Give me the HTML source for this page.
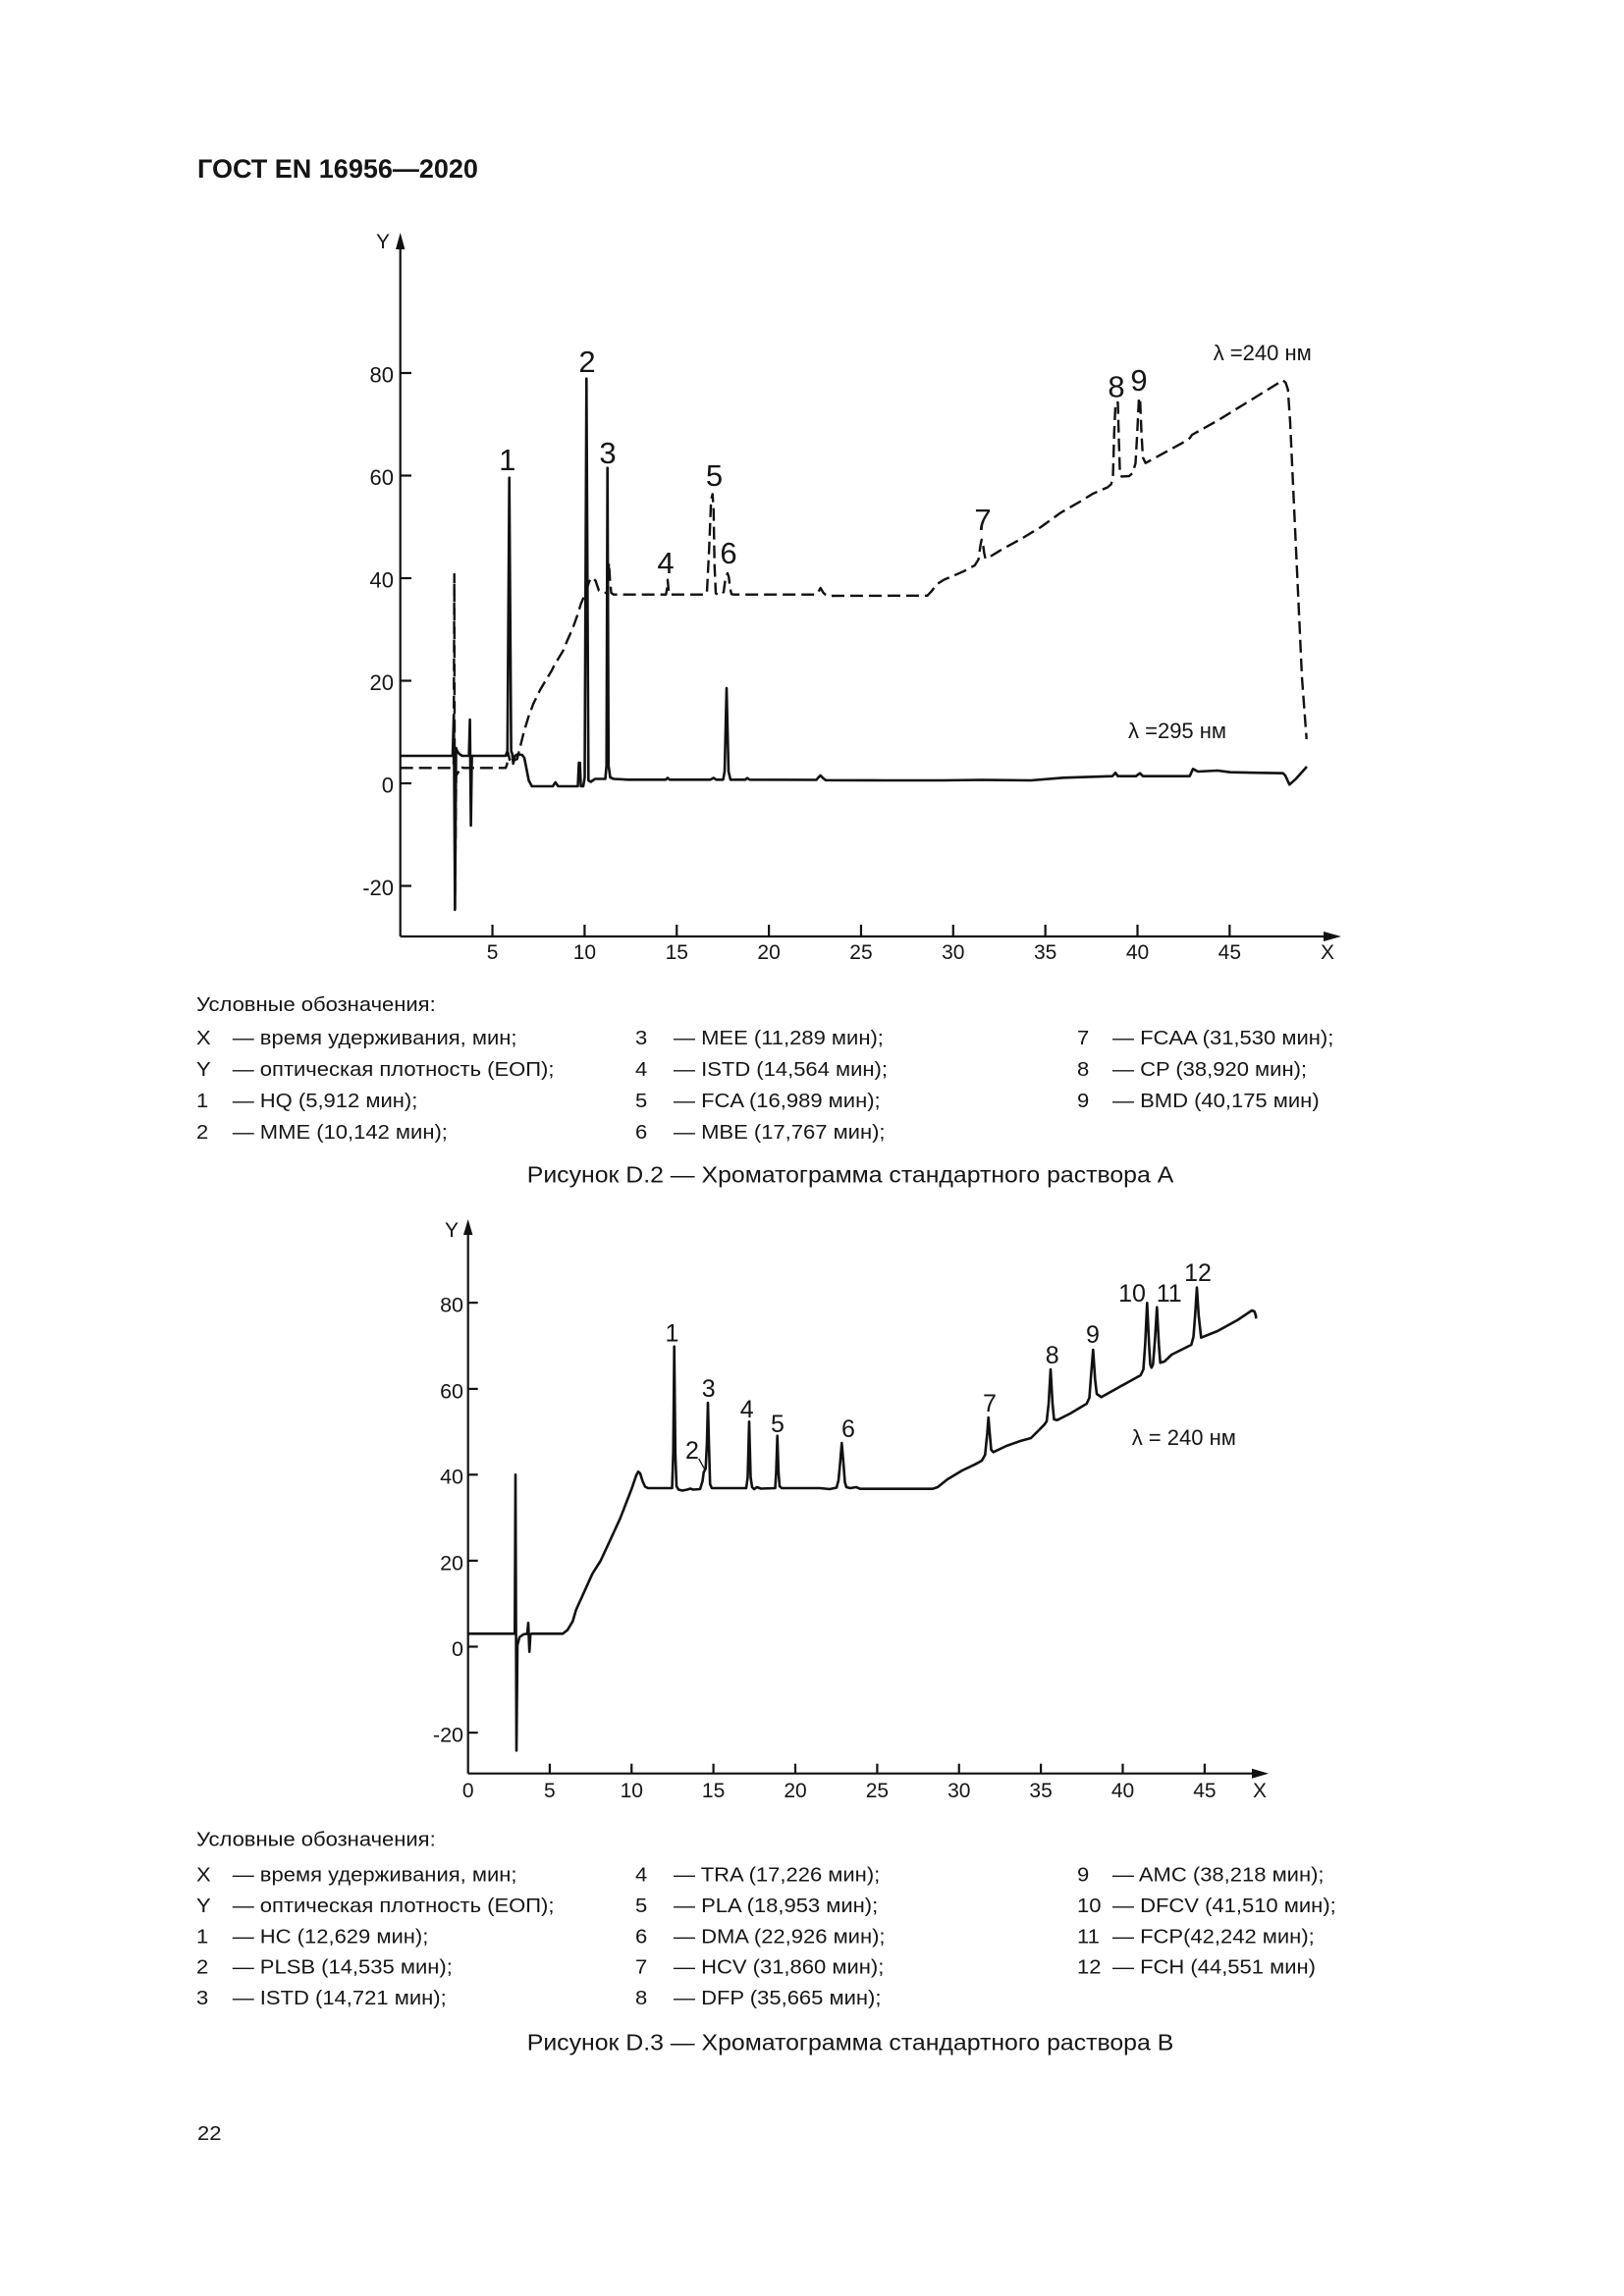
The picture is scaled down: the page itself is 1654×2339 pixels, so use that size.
<!DOCTYPE html>
<html>
<head>
<meta charset="utf-8">
<style>
html,body{margin:0;padding:0;background:#fff;}
svg{display:block;}
text{font-family:"Liberation Sans",Arial,sans-serif;fill:#151515;}
</style>
</head>
<body>
<svg width="1654" height="2339" viewBox="0 0 1654 2339" xmlns="http://www.w3.org/2000/svg">
<rect x="0" y="0" width="1654" height="2339" fill="#fff"/>

<!-- Header -->
<text x="201" y="181" font-size="27" font-weight="bold">ГОСТ EN 16956—2020</text>

<!-- ================= CHART 1 ================= -->
<g stroke="#111" stroke-width="2.2" fill="none">
  <line x1="407.7" y1="954" x2="407.7" y2="250"/>
  <line x1="407.7" y1="954" x2="1352" y2="954"/>
  <line x1="407.7" y1="380" x2="419" y2="380"/>
  <line x1="407.7" y1="484.5" x2="419" y2="484.5"/>
  <line x1="407.7" y1="589" x2="419" y2="589"/>
  <line x1="407.7" y1="693.5" x2="419" y2="693.5"/>
  <line x1="407.7" y1="798" x2="419" y2="798"/>
  <line x1="407.7" y1="902.5" x2="419" y2="902.5"/>
  <line x1="501.55" y1="954" x2="501.55" y2="942"/>
  <line x1="595.4" y1="954" x2="595.4" y2="942"/>
  <line x1="689.25" y1="954" x2="689.25" y2="942"/>
  <line x1="783.1" y1="954" x2="783.1" y2="942"/>
  <line x1="876.95" y1="954" x2="876.95" y2="942"/>
  <line x1="970.8" y1="954" x2="970.8" y2="942"/>
  <line x1="1064.65" y1="954" x2="1064.65" y2="942"/>
  <line x1="1158.5" y1="954" x2="1158.5" y2="942"/>
  <line x1="1252.35" y1="954" x2="1252.35" y2="942"/>
</g>
<polygon points="407.7,237 403,254 412.4,254" fill="#111"/>
<polygon points="1366,954 1348,949 1348,959" fill="#111"/>

<text x="383" y="253" font-size="21">Y</text>
<text x="1352" y="977" font-size="21" text-anchor="middle">X</text>

<g font-size="22" text-anchor="end">
  <text x="401" y="389.5">80</text>
  <text x="401" y="494">60</text>
  <text x="401" y="598.5">40</text>
  <text x="401" y="703">20</text>
  <text x="401" y="807.5">0</text>
  <text x="401" y="912">-20</text>
</g>
<g font-size="21" text-anchor="middle">
  <text x="501.55" y="977">5</text>
  <text x="595.4" y="977">10</text>
  <text x="689.25" y="977">15</text>
  <text x="783.1" y="977">20</text>
  <text x="876.95" y="977">25</text>
  <text x="970.8" y="977">30</text>
  <text x="1064.65" y="977">35</text>
  <text x="1158.5" y="977">40</text>
  <text x="1252.35" y="977">45</text>
</g>

<!-- solid 295 nm -->
<path fill="none" stroke="#111" stroke-width="2.6" stroke-linejoin="round" d="M407.7,770 L461,770 L462.2,728 L463.4,926 L464.5,762 Q466,768 471,770 L477.6,770 L478.6,733 L479.6,841 L480.6,770 L515,770 L516.8,765 L518.7,486.7 L520.6,765 L521.7,768 L522.7,778 L524.5,770 L527,768.5 L531.7,769 L534,772 L536,782 L538.5,795 L541.7,801 L563,801 L565.7,797 L568.5,801 L588.5,801 L589.6,777 L590.6,777 L591.6,801 L594,801 L595.5,792 L597.3,385.7 L599.3,795 L601.7,796.5 L606,793.5 L616.5,793.5 L617.7,780 L618.7,476.7 L619.8,780 L621.5,792 L625,793.5 L640,794.3 L678,794.3 L680,792.5 L682,794.3 L723.5,794.3 L726.7,792.5 L729.5,794.3 L736.5,794.3 L738,786 L740,701 L742,786 L744,794.3 L759,794.3 L761,792.7 L763.5,794.3 L831.5,794.5 L833.5,792 L835.7,790 L838,792.5 L841,794.8 L900,795 L960,795 L1000,794.5 L1050,795 L1083,792.3 L1133,790.7 L1136,787.3 L1138.5,790.7 L1157,790.7 L1161,787.7 L1164,790.7 L1211.7,790.7 L1215,783.3 L1220,786 L1240,785 L1253,786.7 L1306.7,787.7 L1309,790 L1313.3,799.3 L1320,793.3 L1331,781"/>

<!-- dashed 240 nm -->
<path fill="none" stroke="#111" stroke-width="2.4" stroke-dasharray="13,6" stroke-linejoin="round" d="M407.7,782.3 L461,782.3 L462,780 L462.7,585 L463.3,927 L464.6,790 L466.7,786.7 L469,781 L472,782.3 L515,782.3 L516.3,779 L517.5,766.7 L519,774 L520.5,771 L522.5,775 L526.7,773.3 L530,760 L533.3,746.7 L538,731 L543.3,716.7 L550,703 L556.7,691.7 L562,683 L565.7,675 L568,672 L573.3,663.3 L578,652 L583.3,640 L588,627 L591.7,615 L596.7,603.3 L600,592.5 L603.3,588.3 L606.5,591.5 L610,601.7 L615,604.3 L618.3,603.5 L619.3,590 L620.2,573.5 L621.2,590 L622.5,604 L625,605.7 L678.3,605.7 L679.3,600 L680,590.7 L680.8,600 L681.8,605.7 L718.5,605.7 L720,603 L722.2,560 L724.2,510 L725.7,503.3 L726.8,520 L727.7,575 L729,604.5 L731,605.7 L735,605.7 L737,603 L738.5,592 L739.8,587 L741,584 L742.3,588 L743.5,599 L745,605.2 L747,605.7 L831,605.7 L833.5,603 L835.7,599 L838.5,603.8 L841,606 L846,607 L944.5,606.8 L949,602 L953.9,595.3 L961.4,590.6 L970,587 L981.1,582.2 L992.8,575.9 L996.5,570 L998.5,556 L999.7,549.8 L1001,553 L1002.3,563 L1003.6,569.1 L1006,568 L1008.3,567.1 L1020,560 L1040,549 L1060,537 L1080,522.5 L1100,511 L1113,503 L1122,499 L1128,496.5 L1131.7,493.3 L1133.5,486 L1134.8,440 L1136.2,410 L1138.5,410 L1139.6,450 L1140.7,483 L1142.5,485.5 L1150,485 L1153.5,482 L1156.5,472 L1158.3,440 L1160,405 L1161.2,408 L1162.5,440 L1164,466 L1166.7,471.7 L1190,459 L1210,448 L1212,446 L1214,443 L1240,428.5 L1270,410 L1300,391.5 L1306.7,387.3 L1309.5,390 L1311.7,396.7 L1314,430 L1320,560 L1326,690 L1330.7,753"/>

<g font-size="31" text-anchor="middle">
  <text x="516.7" y="479">1</text>
  <text x="598" y="379">2</text>
  <text x="619" y="472">3</text>
  <text x="678" y="584">4</text>
  <text x="727.5" y="495">5</text>
  <text x="742" y="574">6</text>
  <text x="1001" y="540">7</text>
  <text x="1137" y="404.5">8</text>
  <text x="1160" y="398">9</text>
</g>
<text x="1235.7" y="367" font-size="22">λ =240 нм</text>
<text x="1149" y="752" font-size="22">λ =295 нм</text>

<!-- Legend 1 -->
<g font-size="20">
  <text transform="translate(200,1030) scale(1.1,1)">Условные обозначения:</text>

  <text transform="translate(200,1064) scale(1.1,1)">X</text>
  <text transform="translate(236.7,1064) scale(1.1,1)">— время удерживания, мин;</text>
  <text transform="translate(200,1096) scale(1.1,1)">Y</text>
  <text transform="translate(236.7,1096) scale(1.1,1)">— оптическая плотность (ЕОП);</text>
  <text transform="translate(200,1128) scale(1.1,1)">1</text>
  <text transform="translate(236.7,1128) scale(1.1,1)">— HQ (5,912 мин);</text>
  <text transform="translate(200,1160) scale(1.1,1)">2</text>
  <text transform="translate(236.7,1160) scale(1.1,1)">— MME (10,142 мин);</text>

  <text transform="translate(647,1064) scale(1.1,1)">3</text>
  <text transform="translate(686,1064) scale(1.1,1)">— MEE (11,289 мин);</text>
  <text transform="translate(647,1096) scale(1.1,1)">4</text>
  <text transform="translate(686,1096) scale(1.1,1)">— ISTD (14,564 мин);</text>
  <text transform="translate(647,1128) scale(1.1,1)">5</text>
  <text transform="translate(686,1128) scale(1.1,1)">— FCA (16,989 мин);</text>
  <text transform="translate(647,1160) scale(1.1,1)">6</text>
  <text transform="translate(686,1160) scale(1.1,1)">— MBE (17,767 мин);</text>

  <text transform="translate(1097,1064) scale(1.1,1)">7</text>
  <text transform="translate(1133,1064) scale(1.1,1)">— FCAA (31,530 мин);</text>
  <text transform="translate(1097,1096) scale(1.1,1)">8</text>
  <text transform="translate(1133,1096) scale(1.1,1)">— CP (38,920 мин);</text>
  <text transform="translate(1097,1128) scale(1.1,1)">9</text>
  <text transform="translate(1133,1128) scale(1.1,1)">— BMD (40,175 мин)</text>
</g>
<text transform="translate(866,1204.5) scale(1.08,1)" font-size="23" text-anchor="middle">Рисунок D.2 — Хроматограмма стандартного раствора А</text>

<!-- ================= CHART 2 ================= -->
<g stroke="#111" stroke-width="2.2" fill="none">
  <line x1="476.7" y1="1806.7" x2="476.7" y2="1255"/>
  <line x1="476.7" y1="1806.7" x2="1278" y2="1806.7"/>
  <line x1="476.7" y1="1327.1" x2="486.7" y2="1327.1"/>
  <line x1="476.7" y1="1414.9" x2="486.7" y2="1414.9"/>
  <line x1="476.7" y1="1502.3" x2="486.7" y2="1502.3"/>
  <line x1="476.7" y1="1589.9" x2="486.7" y2="1589.9"/>
  <line x1="476.7" y1="1677.5" x2="486.7" y2="1677.5"/>
  <line x1="476.7" y1="1765.1" x2="486.7" y2="1765.1"/>
  <line x1="559.9" y1="1806.7" x2="559.9" y2="1796.7"/>
  <line x1="643.25" y1="1806.7" x2="643.25" y2="1796.7"/>
  <line x1="726.6" y1="1806.7" x2="726.6" y2="1796.7"/>
  <line x1="810" y1="1806.7" x2="810" y2="1796.7"/>
  <line x1="893.4" y1="1806.7" x2="893.4" y2="1796.7"/>
  <line x1="976.75" y1="1806.7" x2="976.75" y2="1796.7"/>
  <line x1="1060.1" y1="1806.7" x2="1060.1" y2="1796.7"/>
  <line x1="1143.5" y1="1806.7" x2="1143.5" y2="1796.7"/>
  <line x1="1226.9" y1="1806.7" x2="1226.9" y2="1796.7"/>
</g>
<polygon points="476.7,1242 472,1258 481.4,1258" fill="#111"/>
<polygon points="1292,1806.7 1275,1801.7 1275,1811.7" fill="#111"/>

<text x="453" y="1260" font-size="21">Y</text>
<text x="1283" y="1831" font-size="21" text-anchor="middle">X</text>

<g font-size="21.5" text-anchor="end">
  <text x="472" y="1336.5">80</text>
  <text x="472" y="1424.3">60</text>
  <text x="472" y="1511.7">40</text>
  <text x="472" y="1599.3">20</text>
  <text x="472" y="1686.9">0</text>
  <text x="472" y="1774.5">-20</text>
</g>
<g font-size="21" text-anchor="middle">
  <text x="476.7" y="1831">0</text>
  <text x="559.9" y="1831">5</text>
  <text x="643.25" y="1831">10</text>
  <text x="726.6" y="1831">15</text>
  <text x="810" y="1831">20</text>
  <text x="893.4" y="1831">25</text>
  <text x="976.75" y="1831">30</text>
  <text x="1060.1" y="1831">35</text>
  <text x="1143.5" y="1831">40</text>
  <text x="1226.9" y="1831">45</text>
</g>

<path fill="none" stroke="#111" stroke-width="2.6" stroke-linejoin="round" d="M476.7,1664.3 L524.3,1664.3 L525,1502.3 L526,1783.3 L527,1676 L529,1668 L533,1665 L537,1664.3 L538,1653.3 L539.2,1682.7 L540.2,1665 L541.5,1664.3 L573.3,1664.3 L578,1660.5 L583.3,1651.7 L586.7,1640 L595,1621.7 L603.3,1603.3 L611.7,1590 L623.3,1565 L631.7,1546.7 L643.3,1516.7 L648,1503 L650,1499.3 L652,1501 L654.5,1509 L657,1514.5 L660,1516 L684.5,1516 L685.7,1480 L686.7,1371.7 L687.8,1480 L689,1514 L691,1517.5 L695,1518.5 L700,1517.5 L703,1516.5 L706,1517.5 L713,1517 L715.5,1509 L716.7,1500 L718.7,1496 L720,1470 L721,1429 L722,1470 L723.2,1512 L725,1516 L760,1516 L761.5,1505 L763,1448.3 L764.5,1505 L766,1515 L768,1517 L771,1515 L775,1516.5 L789.5,1516 L790.5,1500 L791.7,1462.7 L792.9,1500 L794,1514 L796,1516 L835,1516 L845,1517 L852,1515.5 L854,1508 L855.7,1490 L857.3,1470 L859,1490 L860.5,1510 L862,1515 L866,1516 L872,1515 L876,1516.7 L950,1516.7 L955,1515 L965,1507 L980,1498 L993.3,1491.7 L1000,1488 L1003.3,1482 L1005.5,1460 L1006.7,1444 L1008,1460 L1009.5,1477 L1011.7,1479.3 L1025,1473 L1040,1467.7 L1050,1465 L1063.3,1451.7 L1066,1448 L1068,1430 L1070,1395 L1072,1430 L1073.5,1446 L1076.7,1446.7 L1090,1440 L1106.7,1430 L1109.5,1424 L1111.3,1400 L1113.3,1375 L1115.3,1405 L1117,1420 L1121.7,1423.3 L1140,1413 L1161.7,1401 L1164.5,1395 L1166.3,1370 L1168.3,1327.3 L1170.3,1370 L1171.5,1390 L1172.8,1393.3 L1174.3,1390 L1176.3,1365 L1178.3,1331.7 L1180.3,1370 L1181.7,1388.3 L1186,1387 L1193.3,1380 L1213.3,1370 L1215.5,1362 L1217.2,1340 L1219,1311.7 L1220.8,1340 L1223.3,1362.7 L1240,1356 L1260,1345 L1275,1335 L1277.5,1336 L1279,1340 L1279.3,1343.3"/>
<line x1="711.7" y1="1486" x2="717.7" y2="1496.7" stroke="#111" stroke-width="1.3"/>

<g font-size="25" text-anchor="middle">
  <text x="684.5" y="1366.5">1</text>
  <text x="705" y="1486">2</text>
  <text x="721.7" y="1423">3</text>
  <text x="760.7" y="1444">4</text>
  <text x="792" y="1459">5</text>
  <text x="864" y="1464">6</text>
  <text x="1008" y="1438">7</text>
  <text x="1071.7" y="1389">8</text>
  <text x="1113" y="1368">9</text>
  <text x="1153" y="1326">10</text>
  <text x="1190.7" y="1326">11</text>
  <text x="1220" y="1305">12</text>
</g>
<text x="1152.7" y="1472" font-size="22">λ = 240 нм</text>

<!-- Legend 2 -->
<g font-size="20">
  <text transform="translate(200,1880.7) scale(1.1,1)">Условные обозначения:</text>

  <text transform="translate(200,1916.7) scale(1.1,1)">X</text>
  <text transform="translate(236.7,1916.7) scale(1.1,1)">— время удерживания, мин;</text>
  <text transform="translate(200,1948) scale(1.1,1)">Y</text>
  <text transform="translate(236.7,1948) scale(1.1,1)">— оптическая плотность (ЕОП);</text>
  <text transform="translate(200,1979.3) scale(1.1,1)">1</text>
  <text transform="translate(236.7,1979.3) scale(1.1,1)">— HC (12,629 мин);</text>
  <text transform="translate(200,2010.6) scale(1.1,1)">2</text>
  <text transform="translate(236.7,2010.6) scale(1.1,1)">— PLSB (14,535 мин);</text>
  <text transform="translate(200,2041.9) scale(1.1,1)">3</text>
  <text transform="translate(236.7,2041.9) scale(1.1,1)">— ISTD (14,721 мин);</text>

  <text transform="translate(647,1916.7) scale(1.1,1)">4</text>
  <text transform="translate(686,1916.7) scale(1.1,1)">— TRA (17,226 мин);</text>
  <text transform="translate(647,1948) scale(1.1,1)">5</text>
  <text transform="translate(686,1948) scale(1.1,1)">— PLA (18,953 мин);</text>
  <text transform="translate(647,1979.3) scale(1.1,1)">6</text>
  <text transform="translate(686,1979.3) scale(1.1,1)">— DMA (22,926 мин);</text>
  <text transform="translate(647,2010.6) scale(1.1,1)">7</text>
  <text transform="translate(686,2010.6) scale(1.1,1)">— HCV (31,860 мин);</text>
  <text transform="translate(647,2041.9) scale(1.1,1)">8</text>
  <text transform="translate(686,2041.9) scale(1.1,1)">— DFP (35,665 мин);</text>

  <text transform="translate(1097,1916.7) scale(1.1,1)">9</text>
  <text transform="translate(1133,1916.7) scale(1.1,1)">— AMC (38,218 мин);</text>
  <text transform="translate(1097,1948) scale(1.1,1)">10</text>
  <text transform="translate(1133,1948) scale(1.1,1)">— DFCV (41,510 мин);</text>
  <text transform="translate(1097,1979.3) scale(1.1,1)">11</text>
  <text transform="translate(1133,1979.3) scale(1.1,1)">— FCP(42,242 мин);</text>
  <text transform="translate(1097,2010.6) scale(1.1,1)">12</text>
  <text transform="translate(1133,2010.6) scale(1.1,1)">— FCH (44,551 мин)</text>
</g>
<text transform="translate(866,2088.5) scale(1.08,1)" font-size="23" text-anchor="middle">Рисунок D.3 — Хроматограмма стандартного раствора В</text>

<text transform="translate(201,2180) scale(1.1,1)" font-size="20">22</text>
</svg>
</body>
</html>
